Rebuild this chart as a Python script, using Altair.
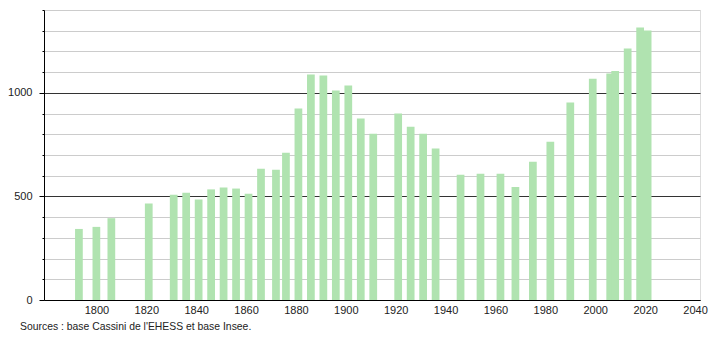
import altair as alt
import pandas as pd

years = [1793, 1800, 1806, 1821, 1831, 1836, 1841, 1846, 1851, 1856, 1861, 1866,
         1872, 1876, 1881, 1886, 1891, 1896, 1901, 1906, 1911, 1921, 1926, 1931,
         1936, 1946, 1954, 1962, 1968, 1975, 1982, 1990, 1999, 2006, 2008, 2013,
         2018, 2021]
population = [343, 353, 395, 466, 508, 518, 485, 534, 543, 538, 513, 634,
              629, 711, 924, 1089, 1084, 1011, 1035, 876, 803, 900, 836, 803,
              731, 605, 610, 610, 545, 668, 764, 953, 1068, 1093, 1105, 1214,
              1316, 1301]
x_ticks = list(range(1800, 2041, 20))
y_ticks = list(range(0, 1401, 100))
source_text = "Sources : base Cassini de l'EHESS et base Insee."

W, H = 656, 290
FONT = "Liberation Sans"
MAJOR = "datum.value % 500 === 0"

df = pd.DataFrame({"year": years, "pop": population})
xscale = alt.Scale(domain=[1779, 2042], nice=False, zero=False)
yscale = alt.Scale(domain=[0, 1400], nice=False)

bars = alt.Chart(df).transform_calculate(
    x0="datum.year - 1.55", x1="datum.year + 1.55"
).mark_rect(color="#b0e3b0").encode(
    x=alt.X("x0:Q", scale=xscale,
            axis=alt.Axis(values=x_ticks, format="d", title=None, grid=False,
                          ticks=False, labelPadding=4, labelFontSize=11,
                          labelFont=FONT, labelColor="#222", domainColor="#000",
                          labelFlush=False, labelOverlap=False)),
    x2="x1:Q",
    y=alt.Y("pop:Q", scale=yscale,
            axis=alt.Axis(values=y_ticks, format="d", title=None, grid=True,
                          gridColor={"condition": {"test": MAJOR, "value": "#333333"},
                                     "value": "#cccccc"},
                          tickSize={"condition": {"test": MAJOR, "value": 5},
                                    "value": 2},
                          tickColor="#000",
                          labelExpr=MAJOR + " ? datum.label : ''",
                          labelOverlap=False, labelFlush=False,
                          labelPadding={"condition": {"test": MAJOR, "value": 7},
                                        "value": 10},
                          labelFontSize=11, labelFont=FONT,
                          labelColor="#222", domainColor="#000")),
)

footer = alt.Chart(pd.DataFrame({"t": [source_text]})).mark_text(
    align="left", baseline="middle", fontSize=10.4, font=FONT, color="#222"
).encode(
    text="t:N",
    x=alt.value(-24),
    y=alt.value(317),
)

chart = alt.layer(bars, footer).properties(
    width=W, height=H,
    autosize=alt.AutoSizeParams(type="none"),
    padding={"left": 44, "top": 10, "right": 10, "bottom": 40},
).configure_view(stroke=None).configure(background="white")

chart.save("out.html", embed_options={"renderer": "svg", "actions": False})
